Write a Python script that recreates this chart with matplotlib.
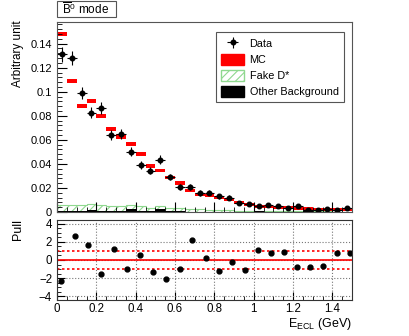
import numpy as np
import matplotlib
matplotlib.use("Agg")
import matplotlib.pyplot as plt
from matplotlib.patches import Rectangle, Patch
from matplotlib.ticker import MultipleLocator

plt.rcParams['font.family'] = ['Liberation Sans', 'DejaVu Sans']
plt.rcParams['mathtext.fontset'] = 'custom'
plt.rcParams['mathtext.rm'] = 'Liberation Sans'
plt.rcParams['mathtext.it'] = 'Liberation Sans:italic'
plt.rcParams['hatch.linewidth'] = 0.8

# binning: 30 bins of 0.05 GeV from 0 to 1.5
edges = np.linspace(0, 1.5, 31)
centers = 0.5 * (edges[:-1] + edges[1:])

data = [0.1311, 0.1283, 0.0989, 0.0826, 0.0865, 0.0640, 0.0648, 0.0502, 0.0394, 0.0344,
        0.0436, 0.0291, 0.0208, 0.0208, 0.0158, 0.0160, 0.0130, 0.0120, 0.0075, 0.0064,
        0.0047, 0.0061, 0.0053, 0.0037, 0.0047, 0.0020, 0.0020, 0.0025, 0.0014, 0.0033]
data_err = [0.0060, 0.0060, 0.0053, 0.0048, 0.0049, 0.0042, 0.0042, 0.0037, 0.0033, 0.0031,
            0.0035, 0.0029, 0.0024, 0.0024, 0.0021, 0.0021, 0.0019, 0.0018, 0.0014, 0.0013,
            0.0011, 0.0013, 0.0012, 0.0010, 0.0011, 0.0007, 0.0007, 0.0008, 0.0006, 0.0009]
mc = [0.1483, 0.1092, 0.0884, 0.0923, 0.0798, 0.0693, 0.0627, 0.0563, 0.0485, 0.0382,
      0.0344, 0.0286, 0.0241, 0.0180, 0.0148, 0.0135, 0.0118, 0.0102, 0.0078, 0.0065,
      0.0048, 0.0045, 0.0040, 0.0035, 0.0030, 0.0027, 0.0024, 0.0022, 0.0020, 0.0018]
mc_err = [0.0018] * 10 + [0.0014] * 10 + [0.0011] * 10
fake = [0.0055, 0.0055, 0.0056, 0.0068, 0.0055, 0.0052, 0.0053, 0.0062, 0.0047, 0.0037,
        0.0052, 0.0036, 0.0030, 0.0028, 0.0022, 0.0018, 0.0015, 0.0014, 0.0012, 0.0011,
        0.0010, 0.0008, 0.0007, 0.0007, 0.0006, 0.0006, 0.0005, 0.0005, 0.0004, 0.0004]
other = [0.0006, 0.0006, 0.0006, 0.0020, 0.0006, 0.0005, 0.0006, 0.0028, 0.0006, 0.0005,
         0.0028, 0.0005, 0.0005, 0.0004, 0.0004, 0.0004, 0.0004, 0.0004, 0.0004, 0.0004,
         0.0008, 0.0004, 0.0004, 0.0004, 0.0004, 0.0008, 0.0004, 0.0004, 0.0004, 0.0004]

pull_x = [0.022, 0.090, 0.158, 0.222, 0.290, 0.356, 0.422, 0.488, 0.556, 0.624, 0.688, 0.756,
          0.824, 0.888, 0.958, 1.024, 1.088, 1.156, 1.222, 1.288, 1.354, 1.422, 1.488]
pull = [-2.33, 2.65, 1.64, -1.53, 1.16, -0.98, 0.55, -1.35, -2.11, -0.98, 2.22, 0.25,
        -1.20, -0.22, -1.05, 1.05, 0.80, 0.87, -0.76, -0.73, -0.62, 0.76, 0.80]

W, H = 409, 336
fig = plt.figure(figsize=(W / 100, H / 100), dpi=100)
ax = fig.add_axes([57 / W, 1 - 212 / H, 295 / W, 190 / H])
ax2 = fig.add_axes([57 / W, 1 - 300 / H, 295 / W, 80 / H])

green = '#8fd88f'

# top panel
ax.stairs(fake, edges, fill=True, facecolor='none', edgecolor=green, hatch='////', linewidth=0.8)
ax.stairs(other, edges, fill=True, color='black')
ax.bar(centers, 2 * np.array(mc_err), bottom=np.array(mc) - np.array(mc_err), width=0.05,
       color='red', linewidth=0)
eb = ax.errorbar(centers, data, yerr=data_err, xerr=0.025, fmt='o', color='black', ms=3.3,
                 elinewidth=0.8, capsize=0)

ax.set_xlim(0, 1.5)
ax.set_ylim(0, 0.158)
ax.yaxis.set_minor_locator(MultipleLocator(0.004))
ax.xaxis.set_major_locator(MultipleLocator(0.2))
ax.xaxis.set_minor_locator(MultipleLocator(0.05))
ax.set_yticks([0, 0.02, 0.04, 0.06, 0.08, 0.1, 0.12, 0.14])
ax.set_yticklabels(['0', '0.02', '0.04', '0.06', '0.08', '0.1', '0.12', '0.14'])
ax.tick_params(which='both', direction='in', labelsize=8, top=False, right=False)
ax.tick_params(which='major', length=7)
ax.tick_params(which='minor', length=3.5)
ax.tick_params(axis='x', labelbottom=False)
for s in ax.spines.values():
    s.set_color('#555555')
    s.set_linewidth(0.8)

handles = [
    eb,
    Patch(facecolor='red', edgecolor='red'),
    Patch(facecolor='white', edgecolor=green, hatch='////'),
    Patch(facecolor='black', edgecolor='black'),
]
leg = ax.legend(handles, ['Data', 'MC', 'Fake D*', 'Other Background'],
                loc='upper left', bbox_to_anchor=(0.539, 0.947), borderaxespad=0,
                fontsize=7.8, fancybox=False, edgecolor='#555555', framealpha=1,
                borderpad=0.5, handlelength=2.1, handleheight=1.2, labelspacing=0.45,
                handletextpad=0.5)
leg.get_frame().set_linewidth(0.8)

# pull panel
ax2.grid(True, which='major', linestyle=':', color='#777777', linewidth=0.8)
ax2.axhline(0, color='red', lw=1.2)
ax2.axhline(1, color='red', lw=1.2, ls=(0, (1.5, 1.5)))
ax2.axhline(-1, color='red', lw=1.2, ls=(0, (1.5, 1.5)))
ax2.plot(pull_x, pull, 'o', color='black', ms=3.5)
ax2.set_xlim(0, 1.5)
ax2.set_ylim(-4.4, 4.4)
ax2.set_yticks([-4, -2, 0, 2, 4])
ax2.set_yticklabels(['\u22124', '\u22122', '0', '2', '4'])
ax2.yaxis.set_minor_locator(MultipleLocator(0.5))
ax2.set_xticks([0, 0.2, 0.4, 0.6, 0.8, 1.0, 1.2, 1.4])
ax2.set_xticklabels(['0', '0.2', '0.4', '0.6', '0.8', '1', '1.2', '1.4'])
ax2.xaxis.set_minor_locator(MultipleLocator(0.05))
ax2.tick_params(which='both', direction='in', labelsize=8.3, top=False, right=False)
ax2.tick_params(axis='x', pad=2)
ax2.tick_params(which='major', length=6)
ax2.tick_params(which='minor', length=3)
for s in ax2.spines.values():
    s.set_color('#333333')
    s.set_linewidth(0.8)

# labels
fig.text(18 / W, 1 - 20 / H, 'Arbitrary unit', rotation=90, ha='center', va='top', fontsize=8.5)
fig.text(18 / W, 1 - 219 / H, 'Pull', rotation=90, ha='center', va='top', fontsize=9)
fig.text(352 / W, 1 - 316 / H, r'E$_{\mathrm{ECL}}$ (GeV)', ha='right', va='top', fontsize=9)

# title box
fig.patches.append(Rectangle((57 / W, 1 - 17 / H), 59 / W, 16 / H, transform=fig.transFigure,
                             facecolor='white', edgecolor='#555555', linewidth=0.8))
fig.text(86 / W, 1 - 9.5 / H, r'$\overline{\mathrm{B}}^{0}$ mode', ha='center', va='center', fontsize=8.5)

fig.savefig('out.png', dpi=100)
